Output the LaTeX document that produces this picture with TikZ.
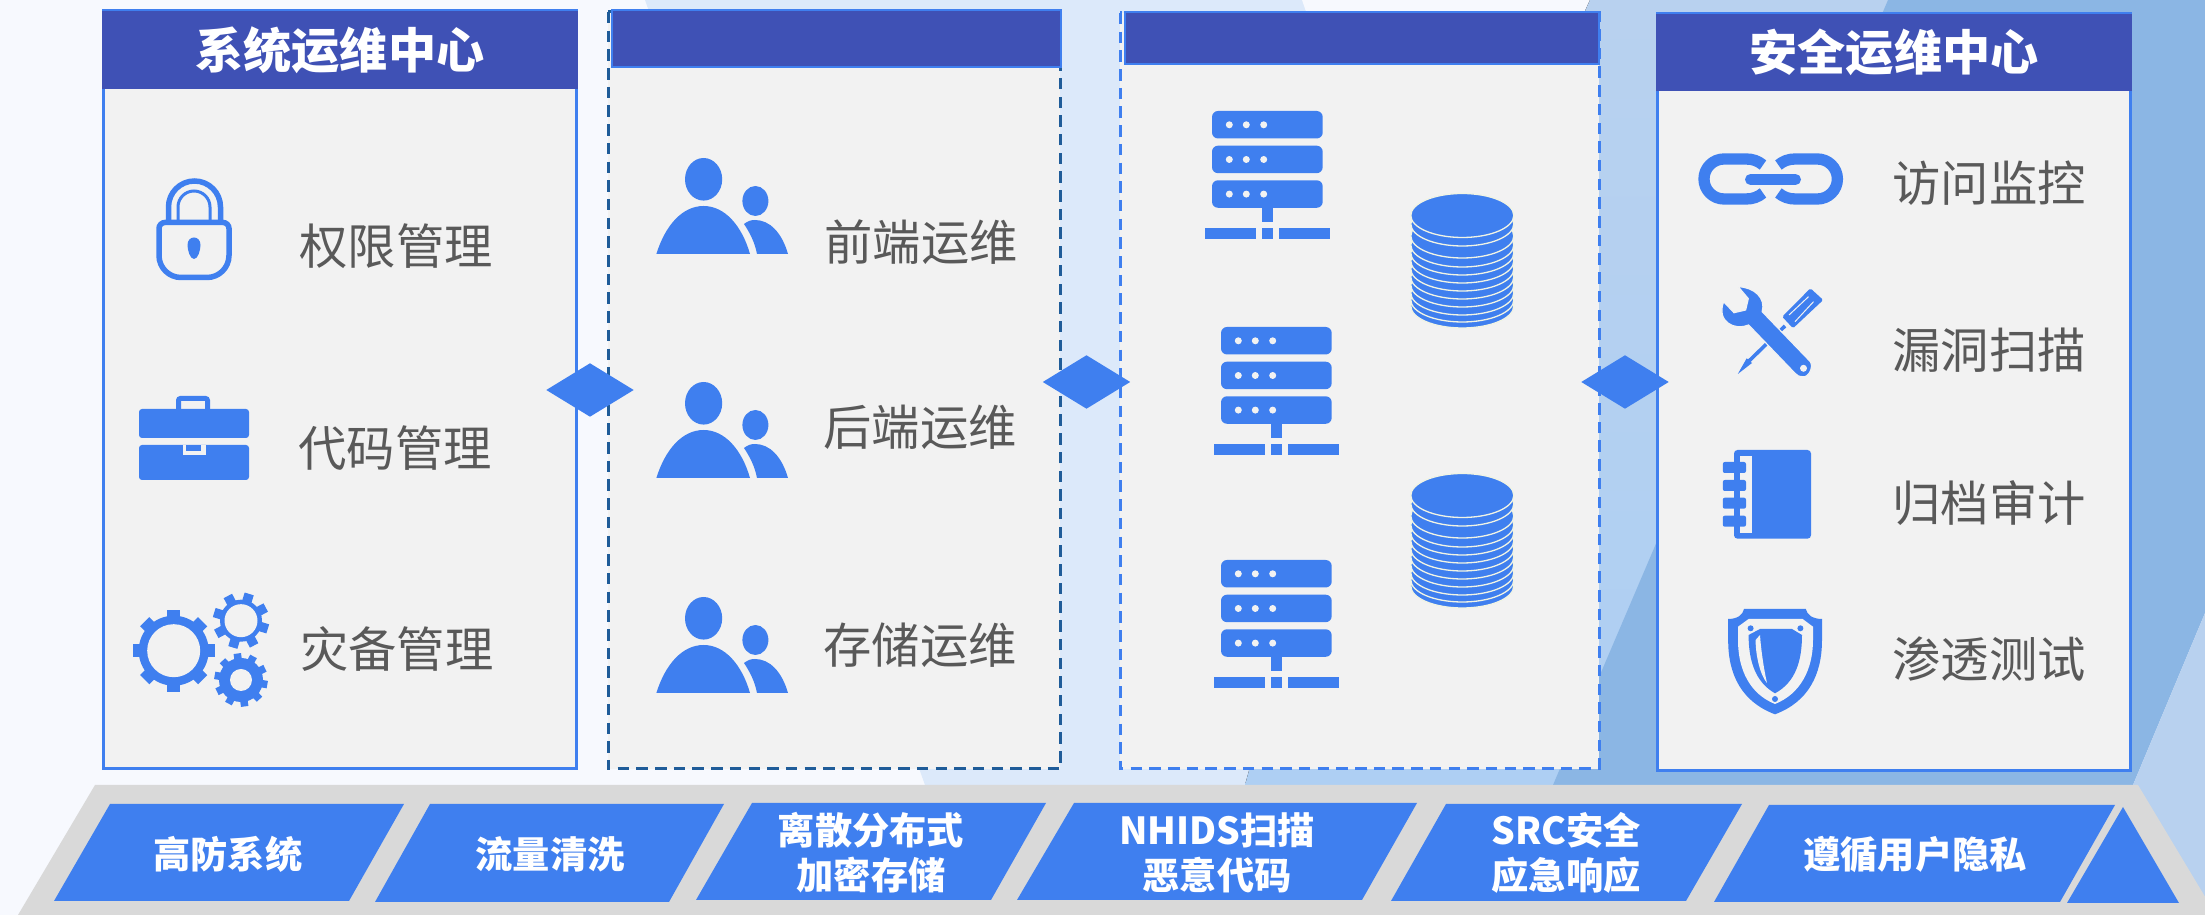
\documentclass[tikz,border=0pt]{standalone}
\usepackage{fontspec}
\usepackage{xcolor}
\usetikzlibrary{shapes.geometric}
\setmainfont{Noto Sans CJK SC}

\definecolor{pagebg}{HTML}{F7F9FE}
\definecolor{palebg}{HTML}{DCE9FA}
\definecolor{midtop}{HTML}{B8D1EF}
\definecolor{midbot}{HTML}{AECFF3}
\definecolor{darkbg}{HTML}{8BB6E4}
\definecolor{iconblue}{HTML}{3F7FEF}
\definecolor{headblue}{HTML}{3F51B5}
\definecolor{panelgray}{HTML}{F2F2F2}
\definecolor{basegray}{HTML}{D9D9D9}
\definecolor{textgray}{HTML}{595959}
\definecolor{dashnavy}{HTML}{1F5C99}
\definecolor{diskline}{HTML}{F1F4E4}

\tikzset{
  panelbox/.style={draw=iconblue,fill=panelgray,line width=0.3mm},
  dashbox/.style={fill=panelgray,line width=0.3mm,dash pattern=on 1.15mm off 0.72mm},
  headbox/.style={draw=iconblue,fill=headblue,line width=0.25mm},
  headtxt/.style={text=white,inner sep=0,font=\fontsize{13.7}{16}\selectfont\bfseries},
  itemtxt/.style={text=textgray,inner sep=0,font=\fontsize{13.75}{16}\selectfont},
  basetxt/.style={text=white,inner sep=0,align=center,font=\fontsize{10.6}{12.8}\selectfont\bfseries},
  linkdia/.style={diamond,fill=iconblue,inner sep=0,minimum width=8.8mm,minimum height=5.4mm,aspect=1.63}
}

\begin{document}
\begin{tikzpicture}[x=0.1mm,y=-0.1mm]
\useasboundingbox (0,0) rectangle (2205,915);
\clip (0,0) rectangle (2205,915);

% background
\fill[pagebg] (0,0) rectangle (2205,915);
\fill[palebg] (645,0)--(1600,0)--(1600,785)--(925,785)--cycle;
\fill[pagebg] (1302,0)--(1590,0)--(1450,423)--cycle;
\fill[top color=midtop,bottom color=midbot] (1590,0)--(1900,0)--(1560,785)--(1245,785)--(1252,760)--(1400,420)--cycle;
\fill[darkbg] (1888,0)--(2205,0)--(2205,613)--(2133,785)--(1553,785)--cycle;
\fill[midtop] (2205,613)--(2133,785)--(2090,915)--(2205,915)--cycle;

% base strip
\fill[basegray] (95,785)--(2138,785)--(2216,915)--(18,915)--cycle;
\fill[iconblue] (110,804)--(404,804)--(349,901)--(54,901)--cycle;
\fill[iconblue] (430,804)--(724,804)--(669,902)--(375,902)--cycle;
\fill[iconblue] (752,803)--(1046,803)--(991,900)--(696,900)--cycle;
\fill[iconblue] (1074,803)--(1417,803)--(1362,900)--(1017,900)--cycle;
\fill[iconblue] (1446,804)--(1742,804)--(1686,901)--(1391,901)--cycle;
\fill[iconblue] (1769,805)--(2115,805)--(2060,902)--(1714,902)--cycle;
\fill[iconblue] (2123,807)--(2179,903)--(2067,903)--cycle;
\node[basetxt] (baseA) at (228,854) {高防系统};
\node[basetxt] (baseB) at (550,854) {流量清洗};
\node[basetxt] (baseC) at (871,853) {离散分布式\\加密存储};
\node[basetxt] (baseD) at (1217,853) {NHIDS扫描\\恶意代码};
\node[basetxt] (baseE) at (1566,853) {SRC安全\\应急响应};
\node[basetxt] (baseF) at (1915,854) {遵循用户隐私};

% panels
\draw[panelbox] (103,11) rectangle (576.5,769);
\fill[headblue] (101.5,11) rectangle (578,89);
\draw[dashbox,draw=dashnavy] (608,12) rectangle (1060,769);
\draw[headbox] (612,10) rectangle (1061,67);
\draw[dashbox,draw=iconblue] (1120,13) rectangle (1599,769);
\draw[headbox] (1125,12) rectangle (1599,64);
\draw[panelbox] (1657,14) rectangle (2130.5,771);
\fill[headblue] (1655.5,14) rectangle (2132,91);
\node[headtxt] (headA) at (340,50) {系统运维中心};
\node[headtxt] (headD) at (1894,52) {安全运维中心};

% left panel
\node[itemtxt] (itemA) at (396,246) {权限管理};
\node[itemtxt] (itemB) at (395,448) {代码管理};
\node[itemtxt] (itemC) at (397,649) {灾备管理};

% lock
\draw[iconblue,line width=0.55mm] (168.5,222) -- (168.5,207) arc[start angle=180,end angle=360,radius=26] -- (220.5,222);
\draw[iconblue,line width=0.3mm] (178,222) -- (178,207) arc[start angle=180,end angle=360,radius=16] -- (210,222);
\draw[iconblue,line width=0.55mm] (165,222.5) -- (223,222.5) arc[start angle=270,end angle=360,radius=6] -- (229,255.5) arc[start angle=0,end angle=90,radius=22] -- (181,277.5) arc[start angle=90,end angle=180,radius=22] -- (159,228.5) arc[start angle=180,end angle=270,radius=6] -- cycle;
\fill[iconblue] (194,259) .. controls (190,259) and (187.5,250) .. (187.5,245) .. controls (187.5,235) and (200.5,235) .. (200.5,245) .. controls (200.5,250) and (198,259) .. (194,259) -- cycle;

% briefcase
\draw[iconblue,line width=0.5mm,rounded corners=0.2mm] (178.5,409) -- (178.5,398.5) -- (207.5,398.5) -- (207.5,409);
\fill[iconblue,rounded corners=0.3mm] (139,438) -- (139,409) -- (249,409) -- (249,438) -- cycle;
\fill[iconblue,rounded corners=0.3mm] (139,445) -- (139,480) -- (249,480) -- (249,445) -- cycle;
\fill[panelgray] (183,445) rectangle (206,455);
\fill[iconblue] (186,445) rectangle (201,451);

% gears
\foreach \a in {0,45,...,315}
   \draw[iconblue,line width=1.3mm] (173.7,650.7) ++(\a:28) -- ++(\a:13);
\fill[iconblue] (173.7,650.7) circle[radius=35];
\fill[panelgray] (173.7,650.7) circle[radius=26.5];
\foreach \a in {17,62,...,332}
   \draw[iconblue,line width=0.95mm] (241,620.7) ++(\a:17) -- ++(\a:11);
\fill[iconblue] (241,620.7) circle[radius=21];
\fill[panelgray] (241,620.7) circle[radius=16.5];
\foreach \a in {10,46,...,334}
   \draw[iconblue,line width=0.75mm] (241,680) ++(\a:18) -- ++(\a:8.7);
\fill[iconblue] (241,680) circle[radius=22];
\fill[panelgray] (241,680) circle[radius=11];

% second panel
\node[itemtxt] (itemD) at (921,242) {前端运维};
\node[itemtxt] (itemE) at (920,427) {后端运维};
\node[itemtxt] (itemF) at (920,645) {存储运维};
\foreach \dy in {0,224,439}
{
\begin{scope}[shift={(0,\dy)}]
\fill[iconblue] (703.6,179.3) circle[x radius=18.6,y radius=21.3];
\fill[iconblue] (656.4,254) .. controls (665,226) and (682,206) .. (703.6,206) .. controls (725,206) and (742,226) .. (750,254) -- cycle;
\fill[iconblue] (755.4,201) circle[x radius=13,y radius=15];
\fill[iconblue] (744,224) .. controls (748,221) and (751,220) .. (755,220) .. controls (770,220) and (782,233) .. (788,254) -- (757,254) .. controls (755,243) and (750,233) .. (744,224) -- cycle;
\end{scope}
}

% servers
\foreach \sx/\sy in {0/0,9/216,9/449}
{
\begin{scope}[shift={(\sx,\sy)}]
\foreach \by in {111,145.7,180.3}
{
   \fill[iconblue,rounded corners=0.6mm] (1212,\by) rectangle (1322.7,\by+27.5);
   \foreach \bx in {1229.3,1246.3,1263.7}
      \fill[panelgray] (\bx,\by+13.8) circle[radius=3.5];
}
\fill[iconblue] (1262,207.5) rectangle (1273,221.7);
\fill[iconblue] (1205,228) rectangle (1256,239);
\fill[iconblue] (1262,228) rectangle (1273,239);
\fill[iconblue] (1279,228) rectangle (1330,239);
\end{scope}
}

% disks
\foreach \dy in {0,280}
{
\foreach \ly in {306,300,293,285,277,269,261,253,245,236,224,215.5}
   \draw[iconblue,fill=iconblue,draw=diskline,line width=0.13mm] (1462.3,\ly+\dy) circle[x radius=51.5,y radius=22];
}

% right panel
\node[itemtxt] (itemG) at (1989,183) {访问监控};
\node[itemtxt] (itemH) at (1989,350) {漏洞扫描};
\node[itemtxt] (itemI) at (1989,503) {归档审计};
\node[itemtxt] (itemJ) at (1989,659) {渗透测试};

% chain
\draw[iconblue,line width=1.13mm] (1763,165) .. controls (1758,161) and (1753,159) .. (1746,159) -- (1724,159) arc[start angle=270,end angle=90,radius=20] -- (1746,199) .. controls (1753,199) and (1758,197) .. (1763,193);
\draw[iconblue,line width=1.13mm] (1778.4,165) .. controls (1783.4,161) and (1788.4,159) .. (1795.4,159) -- (1817.4,159) arc[start angle=-90,end angle=90,radius=20] -- (1795.4,199) .. controls (1788.4,199) and (1783.4,197) .. (1778.4,193);
\draw[iconblue,line width=1.1mm,line cap=round] (1750.5,179.5) -- (1795.5,179.5);

% tools
\fill[iconblue,rounded corners=0.15mm] (1810.4,288.3) -- (1823.2,300) -- (1793,328.3) -- (1782.2,316.7) -- cycle;
\draw[panelgray,line width=0.1mm] (1808.5,296.7) -- (1789,315);
\draw[panelgray,line width=0.1mm] (1813.5,301.7) -- (1795,321.7);
\draw[iconblue,line width=0.36mm] (1785,326) -- (1749,361);
\fill[iconblue] (1746.7,358.3) -- (1752,363) -- (1737.8,374) -- cycle;
\fill[iconblue,draw=panelgray,line width=0.12mm] (1738.2,286.7) .. controls (1754.4,287.3) and (1766,298) .. (1762.2,311.7) -- (1810.4,361.7) .. controls (1814,368) and (1808,378) .. (1802.7,376.7) .. controls (1799,376.7) and (1797,375.5) .. (1795,373.3) -- (1748.6,325) .. controls (1735,331) and (1716,322) .. (1723.6,301.7) -- (1734,312.7) -- (1745.6,310) -- (1748.3,298.7) -- cycle;
\fill[panelgray] (1803.5,368.3) circle[radius=3.5];

% notebook
\fill[iconblue,rounded corners=0.35mm] (1734,450) -- (1811,450) -- (1811,538.7) -- (1734,538.7) -- cycle;
\fill[panelgray] (1740,455.7) rectangle (1752,533);
\foreach \ry in {462,480,497.7,515.7}
   \fill[iconblue,rounded corners=0.2mm] (1722.8,\ry) rectangle (1746,\ry+11);

% shield
\fill[iconblue] (1744,609) -- (1805.8,609) .. controls (1807,615) and (1813,619) .. (1822,619) -- (1822,640) .. controls (1822,675) and (1808,702) .. (1775,714.3) .. controls (1742,702) and (1728,675) .. (1728.2,640) -- (1728.2,619) .. controls (1737,619) and (1743,615) .. (1744,609) -- cycle;
\fill[panelgray] (1748.6,619) -- (1802.7,619) -- (1813,626.7) -- (1813,640) .. controls (1813,670) and (1800,694) .. (1775,704) .. controls (1750,694) and (1738,670) .. (1738,640) -- (1738,626.7) -- cycle;
\fill[iconblue] (1760,629) -- (1792,629) -- (1802,635) .. controls (1802,660) and (1796,682) .. (1775,693.3) .. controls (1755,682) and (1748.6,660) .. (1748.6,635) -- cycle;
\foreach \rx/\ry in {1750.6/628.3,1800.4/628.3,1775/699}
   \fill[iconblue] (\rx,\ry) circle[radius=3];
\fill[panelgray] (1760,635) -- (1755.6,640) .. controls (1755.6,655) and (1760,675) .. (1767,683) .. controls (1764,670) and (1761,650) .. (1760,635) -- cycle;

% joints
\node[linkdia] (jointA) at (590,390) {};
\node[linkdia] (jointB) at (1086.5,382) {};
\node[linkdia] (jointC) at (1625,382) {};

\end{tikzpicture}
\end{document}
